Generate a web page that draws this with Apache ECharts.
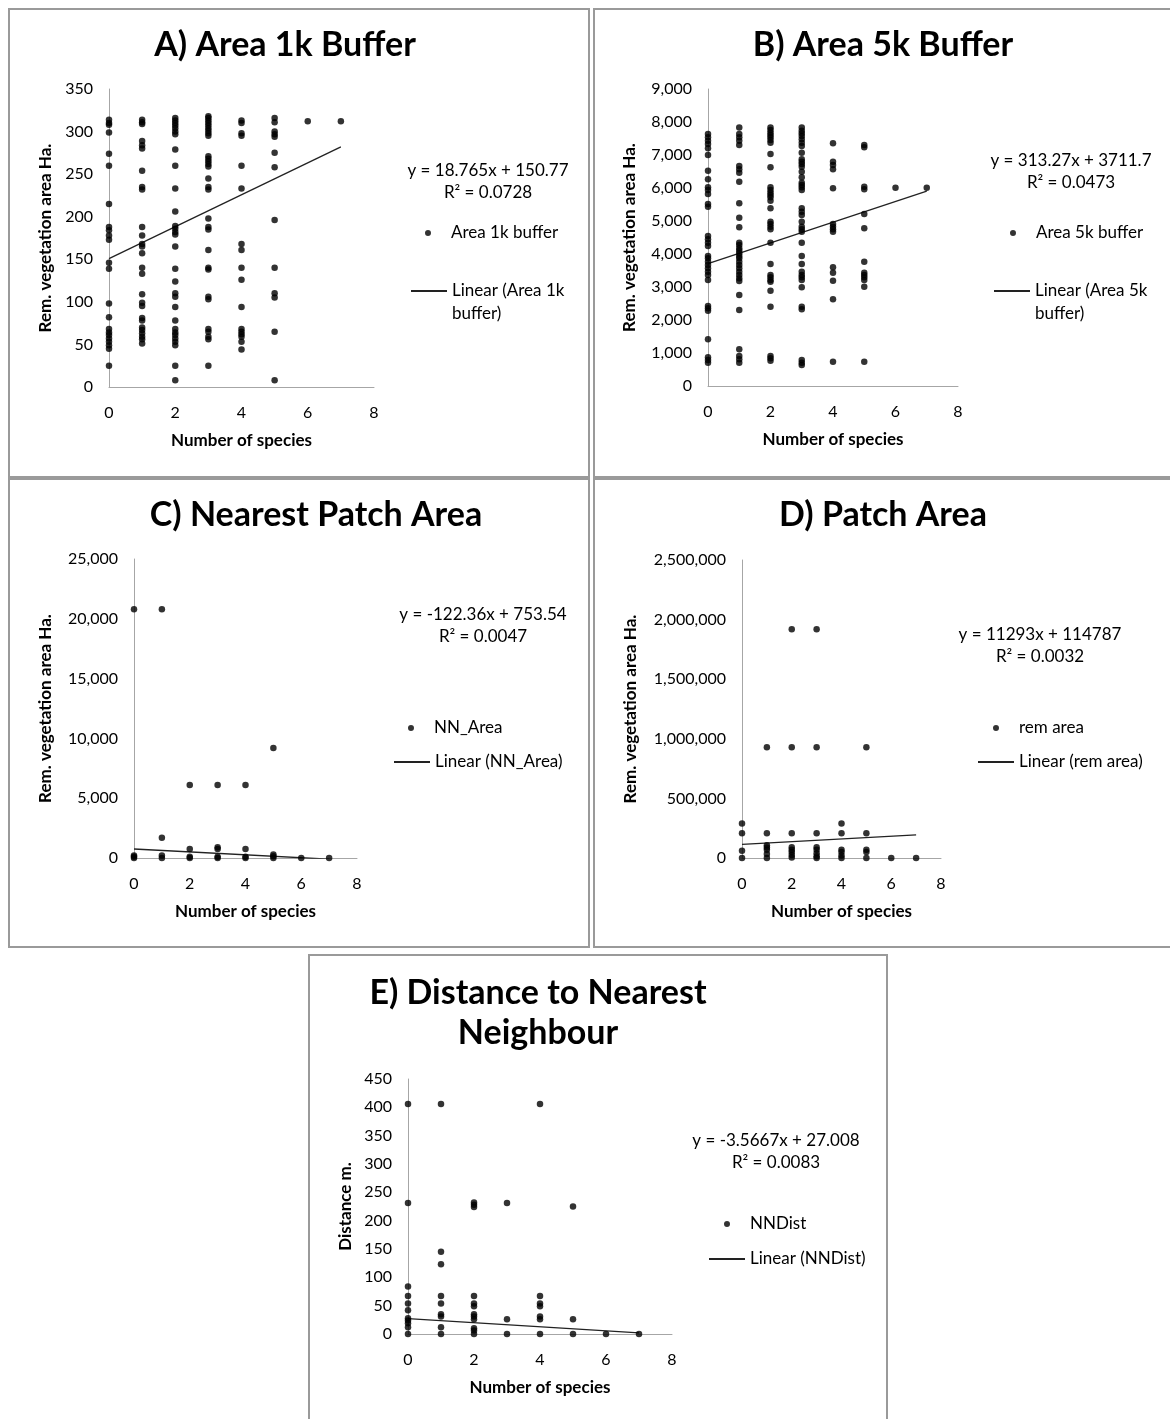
<!DOCTYPE html>
<html><head><meta charset="utf-8">
<script src="https://cdn.jsdelivr.net/npm/echarts@6/dist/echarts.min.js"></script>
<style>
html,body{margin:0;padding:0;background:#fff;width:1170px;height:1419px;overflow:hidden;position:relative}
.box{position:absolute;box-sizing:border-box;border:2px solid #9a9a9a;background:#fff}
</style></head><body>
<div id="A" class="box" style="left:8px;top:8px;width:582px;height:470px"></div>
<div id="B" class="box" style="left:593px;top:8px;width:580px;height:470px"></div>
<div id="C" class="box" style="left:8px;top:478px;width:582px;height:470px"></div>
<div id="D" class="box" style="left:593px;top:478px;width:580px;height:470px"></div>
<div id="E" class="box" style="left:308px;top:954px;width:580px;height:470px"></div>
<script>
// ---------- DATA (values indexed by number of species 0..7) ----------
const speciesTickInterval = 2;
const trendXRange = [0, 7];

const area1kBySpecies = [
  [314,310,308,299,274,260,215,188,184,178,173,146,139,98,82,68,64,61,57,53,49,45,25],
  [314,311,309,289,284,280,254,235,232,188,178,168,165,157,140,133,109,99,95,81,78,70,67,63,59,56,51],
  [316,313,310,307,304,300,297,279,260,233,206,189,186,182,179,165,139,124,110,106,94,78,68,64,61,57,53,49,25,8],
  [318,316,313,310,307,304,301,298,295,271,268,265,262,259,245,235,232,198,188,185,161,140,138,106,103,68,65,59,56,25],
  [313,310,298,295,260,233,168,161,140,126,94,68,65,62,59,53,44],
  [316,311,300,297,294,275,258,196,140,110,105,65,8],
  [312],
  [312]
];
const area1kTrend = [18.765, 150.77];
const area1kEquation = ['y = 18.765x + 150.77', 'R\u00B2 = 0.0728'];

const area5kBySpecies = [
  [7636,7535,7434,7333,7201,6999,6525,6262,6020,5939,5818,5515,5434,4545,4444,4343,4242,3939,3868,3767,3666,3565,3464,3363,3212,2424,2353,2282,1414,869,788,707],
  [7837,7636,7535,7434,7302,6666,6565,6464,6191,5535,5100,4808,4343,4272,4171,4101,4020,3939,3868,3767,3666,3565,3464,3363,3262,3181,2757,2303,1111,909,808,707],
  [7837,7757,7676,7605,7535,7454,7373,7030,6626,6020,5939,5858,5787,5717,5615,5383,4979,4909,4828,4747,4343,3697,3363,3292,3212,3161,2888,2403,909,838,767],
  [7837,7737,7656,7575,7474,7373,7272,7070,6868,6797,6727,6646,6494,6323,6161,6090,6020,5939,5383,5282,5181,4979,4828,4747,4676,4343,3939,3697,3464,3363,3292,3212,2990,2403,2323,788,707,636],
  [7353,6797,6696,6565,5989,4909,4828,4747,4676,3595,3434,3191,2626,737],
  [7302,7232,6040,5959,5212,4777,3767,3434,3363,3292,3212,3010,737],
  [6010],
  [6010]
];
const area5kTrend = [313.27, 3711.7];
const area5kEquation = ['y = 313.27x + 3711.7', 'R\u00B2 = 0.0473'];

const nnAreaBySpecies = [
  [20800,200,100,0],
  [20800,1700,200,0],
  [6100,750,100,0],
  [6100,900,750,100,0],
  [6100,750,100,0],
  [9200,300,150,0],
  [0],
  [0]
];
const nnAreaTrend = [-122.36, 753.54];
const nnAreaEquation = ['y = -122.36x + 753.54', 'R\u00B2 = 0.0047'];

const remAreaBySpecies = [
  [290000,208000,61000,0],
  [930000,208000,108000,89000,69000,33000,0],
  [1920000,930000,208000,90000,70000,50000,25000,5000],
  [1920000,930000,208000,90000,70000,40000,15000,0],
  [290000,208000,70000,50000,20000,0],
  [930000,208000,70000,50000,0],
  [0],
  [0]
];
const remAreaTrend = [11293, 114787];
const remAreaEquation = ['y = 11293x + 114787', 'R\u00B2 = 0.0032'];

const nnDistBySpecies = [
  [406,231,84,67,54,42,28,24,19,12,0],
  [406,145,123,67,54,35,31,12,0],
  [232,228,224,67,54,49,35,31,26,10,6,0],
  [231,26,0],
  [406,67,54,49,31,26,0],
  [225,26,0],
  [0],
  [0]
];
const nnDistTrend = [-3.5667, 27.008];
const nnDistEquation = ['y = -3.5667x + 27.008', 'R\u00B2 = 0.0083'];

// ---------- RENDERING ----------
const FONT = 'Lato, "Open Sans", "DejaVu Sans", sans-serif';
const DOT_ICON = 'path://M0,0L0.001,0L0,0.001Z M15,3A3,3 0 1,1 21,3A3,3 0 1,1 15,3Z M36,6L35.999,6L36,5.999Z';

function toPoints(bySpecies) {
  const pts = [];
  bySpecies.forEach((vals, x) => vals.forEach(v => pts.push([x, v])));
  return pts;
}
function trendPoints(coef) {
  return trendXRange.map(x => [x, coef[0] * x + coef[1]]);
}

function build(elId, cfg) {
  const chart = echarts.init(document.getElementById(elId), null, {renderer: 'canvas'});
  const lineName = 'Linear (' + cfg.seriesName + ')';
  const graphics = [];
  cfg.titleLines.forEach((t, i) => graphics.push({
    type: 'text', x: cfg.titlePos[0], y: cfg.titlePos[1] + i * cfg.titleLineGap,
    style: {text: t, font: 'bold 34px ' + FONT, fill: '#000', align: 'center', verticalAlign: 'middle'}
  }));
  cfg.equation.forEach((t, i) => graphics.push({
    type: 'text', x: cfg.eqPos[0], y: cfg.eqPos[1] + i * 22,
    style: {text: t, font: '17px ' + FONT, fill: '#000', align: 'center', verticalAlign: 'middle'}
  }));
  const legTxt = {color: '#000', fontSize: 17, fontFamily: FONT, lineHeight: 23};
  const twoLine = cfg.lineLabel.indexOf('\n') >= 0;
  chart.setOption({
    animation: false,
    textStyle: {fontFamily: FONT},
    grid: {left: cfg.grid[0], top: cfg.grid[1], width: cfg.grid[2], height: cfg.grid[3], outerBoundsMode: 'none', containLabel: false},
    xAxis: {
      type: 'value', min: 0, max: 8, interval: speciesTickInterval,
      axisLine: {show: true, onZero: false, lineStyle: {color: '#a6a6a6', width: 1}},
      axisTick: {show: false}, splitLine: {show: false},
      axisLabel: {color: '#000', fontSize: 16, margin: 18, fontFamily: FONT},
      name: 'Number of species', nameLocation: 'middle', nameGap: 45,
      nameTextStyle: {color: '#000', fontSize: 17, fontWeight: 'bold', fontFamily: FONT}
    },
    yAxis: {
      type: 'value', min: 0, max: cfg.yMax, interval: cfg.yInterval,
      axisLine: {show: true, onZero: false, lineStyle: {color: '#a6a6a6', width: 1}},
      axisTick: {show: false}, splitLine: {show: false},
      axisLabel: {color: '#000', fontSize: 16, margin: 16, fontFamily: FONT,
        formatter: v => v.toLocaleString('en-US')},
      name: cfg.yName, nameLocation: 'middle', nameGap: cfg.yNameGap, nameRotate: 90,
      nameTextStyle: {color: '#000', fontSize: 17, fontWeight: 'bold', fontFamily: FONT}
    },
    legend: [
      {data: [{name: cfg.seriesName, icon: DOT_ICON}], orient: 'vertical', padding: 0,
       left: cfg.legDot[0] - 18, top: cfg.legDot[1] - 11.5,
       itemWidth: 36, itemHeight: 6, textStyle: legTxt, selectedMode: false},
      {data: [{name: lineName, itemStyle: {opacity: 0, color: 'rgba(0,0,0,0)', borderWidth: 0}}],
       orient: 'vertical', padding: 0,
       left: cfg.legLine[0], top: cfg.legLine[1] - (twoLine ? 34.5 : 11.5),
       itemWidth: 36, itemHeight: 6, selectedMode: false,
       textStyle: legTxt,
       formatter: () => (twoLine ? '\n' : '') + cfg.lineLabel}
    ],
    graphic: graphics,
    series: [
      {type: 'scatter', name: cfg.seriesName, data: toPoints(cfg.data), symbol: 'circle', symbolSize: 6.5,
       itemStyle: {color: '#000'}, z: 3},
      {type: 'line', name: lineName, data: trendPoints(cfg.trend), symbol: 'none', clip: true,
       lineStyle: {color: '#222', width: 1.3}, itemStyle: {color: '#222'}, z: 2}
    ]
  });
}

build('A', {
  data: area1kBySpecies, trend: area1kTrend, equation: area1kEquation,
  seriesName: 'Area 1k buffer', lineLabel: 'Linear (Area 1k\nbuffer)',
  yMax: 350, yInterval: 50, yName: 'Rem. vegetation area Ha.', yNameGap: 55,
  titleLines: ['A) Area 1k Buffer'], titlePos: [275, 35], titleLineGap: 40,
  grid: [99, 79, 265, 298], eqPos: [478, 161], legDot: [418, 223], legLine: [400, 281]
});
build('B', {
  data: area5kBySpecies, trend: area5kTrend, equation: area5kEquation,
  seriesName: 'Area 5k buffer', lineLabel: 'Linear (Area 5k\nbuffer)',
  yMax: 9000, yInterval: 1000, yName: 'Rem. vegetation area Ha.', yNameGap: 70,
  titleLines: ['B) Area 5k Buffer'], titlePos: [288, 35], titleLineGap: 40,
  grid: [113, 79, 250, 297], eqPos: [476, 151], legDot: [418, 223], legLine: [398, 281]
});
build('C', {
  data: nnAreaBySpecies, trend: nnAreaTrend, equation: nnAreaEquation,
  seriesName: 'NN_Area', lineLabel: 'Linear (NN_Area)',
  yMax: 25000, yInterval: 5000, yName: 'Rem. vegetation area Ha.', yNameGap: 80,
  titleLines: ['C) Nearest Patch Area'], titlePos: [306, 35], titleLineGap: 40,
  grid: [124, 79, 223, 299], eqPos: [473, 135], legDot: [401, 248], legLine: [383, 282]
});
build('D', {
  data: remAreaBySpecies, trend: remAreaTrend, equation: remAreaEquation,
  seriesName: 'rem area', lineLabel: 'Linear (rem area)',
  yMax: 2500000, yInterval: 500000, yName: 'Rem. vegetation area Ha.', yNameGap: 103,
  titleLines: ['D) Patch Area'], titlePos: [288, 35], titleLineGap: 40,
  grid: [147, 80, 199, 298], eqPos: [445, 155], legDot: [401, 248], legLine: [382, 282]
});
build('E', {
  data: nnDistBySpecies, trend: nnDistTrend, equation: nnDistEquation,
  seriesName: 'NNDist', lineLabel: 'Linear (NNDist)',
  yMax: 450, yInterval: 50, yName: 'Distance m.', yNameGap: 54,
  titleLines: ['E) Distance to Nearest', 'Neighbour'], titlePos: [228, 37], titleLineGap: 40,
  grid: [98, 123, 264, 255], eqPos: [466, 185], legDot: [417, 268], legLine: [398, 303]
});
</script>
</body></html>
